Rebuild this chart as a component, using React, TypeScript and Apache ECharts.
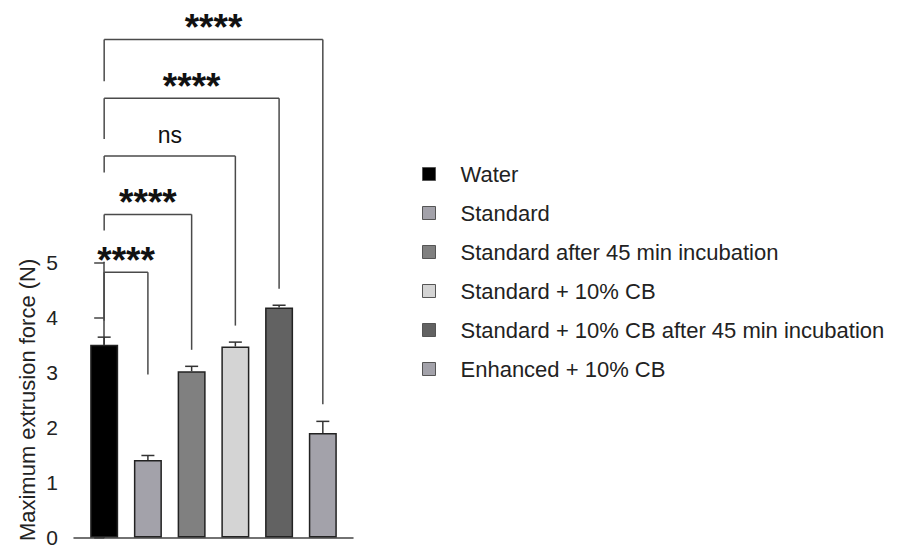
import React, { useEffect, useRef } from "react";
import * as echarts from "echarts";

const groups = [
  "Water",
  "Standard",
  "Standard after 45 min incubation",
  "Standard + 10% CB",
  "Standard + 10% CB after 45 min incubation",
  "Enhanced + 10% CB",
];
const means = [3.5, 1.41, 3.02, 3.47, 4.18, 1.9];
const errs = [0.14, 0.08, 0.09, 0.08, 0.04, 0.21];
const colors = ["#000000", "#a3a2aa", "#808080", "#d4d4d4", "#626262", "#a3a2aa"];

const bracketFrom = [0, 0, 0, 0, 0];
const bracketTo = [1, 2, 3, 4, 5];
const bracketY = [4.82, 5.87, 6.93, 7.98, 9.05];
const bracketLeftEnd = [3.94, 5.58, 6.63, 7.24, 8.29];
const bracketRightEnd = [2.96, 3.41, 3.85, 4.52, 2.42];
const bracketLabels = ["****", "****", "ns", "****", "****"];

const FONT = '"Liberation Sans", Arial, Helvetica, sans-serif';

export default function App() {
  const ref = useRef<HTMLDivElement>(null);
  useEffect(() => {
    if (!ref.current) return;
    const chart = echarts.init(ref.current, undefined, { renderer: "svg" });
    const barSeries = groups.map((name, i) => ({
      type: "bar",
      name,
      barWidth: 28,
      barGap: "-100%",
      data: [[i, means[i]]],
      itemStyle: { color: colors[i], borderColor: "#222", borderWidth: 1.5 },
      z: 2,
    }));
    const errData = means.map((m, i) => [i, m, errs[i]]);
    const bracketData = bracketFrom.map((f, i) => [f, bracketTo[i], bracketY[i]]);
    const option: any = {
      animation: false,
      grid: { left: 74, right: 562, top: 262.3, bottom: 9, containLabel: false },
      legend: {
        orient: "vertical",
        left: 422,
        top: 163,
        padding: 0,
        itemWidth: 13,
        itemHeight: 13,
        itemGap: 17,
        icon: "rect",
        selectedMode: false,
        itemStyle: { borderWidth: 1, borderColor: "#555" },
        textStyle: {
          fontFamily: FONT,
          fontSize: 22,
          lineHeight: 22,
          color: "#222",
          padding: [0, 0, 0, 20],
        },
        data: groups,
      },
      xAxis: {
        type: "value",
        min: -0.69,
        max: 5.69,
        axisLine: { show: true, lineStyle: { color: "#444", width: 1.5 } },
        axisTick: { show: false },
        axisLabel: { show: false },
        splitLine: { show: false },
      },
      yAxis: {
        type: "value",
        min: 0,
        max: 5,
        interval: 1,
        name: "Maximum extrusion force (N)",
        nameLocation: "middle",
        nameGap: 36,
        nameTextStyle: { fontFamily: FONT, fontSize: 22, color: "#222" },
        axisLine: { show: true, lineStyle: { color: "#444", width: 1.5 } },
        axisTick: { show: true, length: 10, lineStyle: { color: "#444", width: 1.5 } },
        axisLabel: { fontFamily: FONT, fontSize: 21, color: "#222", margin: 16 },
        splitLine: { show: false },
      },
      series: [
        ...barSeries,
        {
          type: "custom",
          name: "err",
          clip: false,
          z: 3,
          data: errData,
          encode: { x: 0, y: 1 },
          renderItem: (params: any, api: any) => {
            const x = api.value(0);
            const m = api.value(1);
            const e = api.value(2);
            const p0 = api.coord([x, m]);
            const p1 = api.coord([x, m + e]);
            const st = { stroke: "#333", lineWidth: 1.5 };
            return {
              type: "group",
              children: [
                { type: "line", shape: { x1: p0[0], y1: p0[1], x2: p1[0], y2: p1[1] }, style: st },
                { type: "line", shape: { x1: p1[0] - 6.5, y1: p1[1], x2: p1[0] + 6.5, y2: p1[1] }, style: st },
              ],
            };
          },
        },
        {
          type: "custom",
          name: "brackets",
          clip: false,
          z: 3,
          data: bracketData,
          encode: { x: [0, 1], y: 2 },
          renderItem: (params: any, api: any) => {
            const i = params.dataIndex;
            const a = bracketFrom[i];
            const b = bracketTo[i];
            const y = bracketY[i];
            const pl = api.coord([a, bracketLeftEnd[i]]);
            const plTop = api.coord([a, y]);
            const prTop = api.coord([b, y]);
            const pr = api.coord([b, bracketRightEnd[i]]);
            const label = bracketLabels[i];
            const isStar = label.indexOf("*") >= 0;
            const cx = (plTop[0] + prTop[0]) / 2;
            const cy = isStar ? plTop[1] - 12 : plTop[1] - 21.5;
            const st = { stroke: "#4a4a4a", lineWidth: 1.5 };
            return {
              type: "group",
              children: [
                { type: "line", shape: { x1: pl[0], y1: pl[1], x2: plTop[0], y2: plTop[1] }, style: st },
                { type: "line", shape: { x1: plTop[0], y1: plTop[1], x2: prTop[0], y2: prTop[1] }, style: st },
                { type: "line", shape: { x1: prTop[0], y1: prTop[1], x2: pr[0], y2: pr[1] }, style: st },
                {
                  type: "text",
                  x: cx,
                  y: cy,
                  style: {
                    text: label,
                    fill: "#111",
                    font: isStar ? `bold 37px ${FONT}` : `23px ${FONT}`,
                    align: "center",
                    verticalAlign: "middle",
                  },
                },
              ],
            };
          },
        },
      ],
    };
    chart.setOption(option);
    return () => chart.dispose();
  }, []);
  return (
    <div
      ref={ref}
      style={{ position: "fixed", left: 0, top: 0, width: 915, height: 548, background: "#fff" }}
    />
  );
}
